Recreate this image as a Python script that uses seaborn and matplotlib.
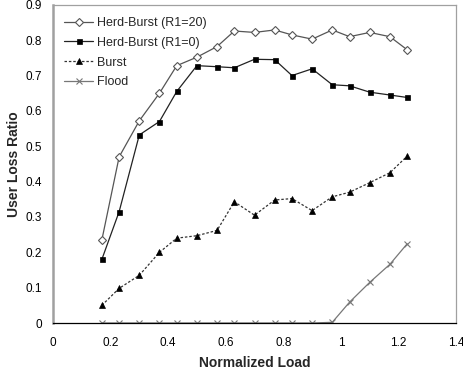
import matplotlib
matplotlib.use("Agg")
import matplotlib.pyplot as plt
import seaborn as sns
import pandas as pd

# data
load = [0.17, 0.23, 0.30, 0.37, 0.43, 0.50, 0.57, 0.63, 0.70, 0.77,
        0.83, 0.90, 0.97, 1.03, 1.10, 1.17, 1.23]
herd_r20 = [0.235, 0.470, 0.572, 0.650, 0.728, 0.752, 0.782, 0.826, 0.822, 0.829,
            0.815, 0.803, 0.829, 0.810, 0.822, 0.810, 0.773]
herd_r0 = [0.180, 0.315, 0.532, 0.570, 0.655, 0.728, 0.725, 0.722, 0.746, 0.745,
           0.700, 0.719, 0.674, 0.671, 0.653, 0.645, 0.638]
burst = [0.050, 0.098, 0.135, 0.200, 0.240, 0.247, 0.262, 0.343, 0.305, 0.348,
         0.352, 0.318, 0.357, 0.370, 0.397, 0.425, 0.472]
flood = [0, 0, 0, 0, 0, 0, 0, 0, 0, 0, 0, 0, 0.002, 0.059, 0.115, 0.166, 0.224]

series_names = ["Herd-Burst (R1=20)", "Herd-Burst (R1=0)", "Burst", "Flood"]
x_ticks = [0, 0.2, 0.4, 0.6, 0.8, 1, 1.2, 1.4]
x_labels = ["0", "0.2", "0.4", "0.6", "0.8", "1", "1.2", "1.4"]
y_ticks = [0, 0.1, 0.2, 0.3, 0.4, 0.5, 0.6, 0.7, 0.8, 0.9]
y_labels = ["0", "0.1", "0.2", "0.3", "0.4", "0.5", "0.6", "0.7", "0.8", "0.9"]

sns.set_style("white")
plt.rcParams['font.family'] = ['Liberation Sans', 'DejaVu Sans']

fig = plt.figure(figsize=(4.64, 3.73), dpi=100)
ax = fig.add_axes([0.114, 0.134, 0.869, 0.853])

styles = [
    dict(color="#555555", marker="D", markersize=4, markerfacecolor="white",
         markeredgecolor="#555555", markeredgewidth=0.8, linestyle="-", linewidth=0.9),
    dict(color="#222222", marker="s", markersize=3.6, markerfacecolor="black",
         markeredgecolor="black", markeredgewidth=0.5, linestyle="-", linewidth=0.9),
    dict(color="#333333", marker="^", markersize=4.5, markerfacecolor="black",
         markeredgecolor="black", markeredgewidth=0.5, linestyle=(0, (2, 1.5)),
         linewidth=0.9),
    dict(color="#777777", marker="x", markersize=4, markeredgecolor="#777777",
         markeredgewidth=0.8, linestyle="-", linewidth=0.9),
]

for name, vals, st in zip(series_names, [herd_r20, herd_r0, burst, flood], styles):
    df = pd.DataFrame({"load": load, "ratio": vals})
    sns.lineplot(data=df, x="load", y="ratio", ax=ax, label=name, **st)

ax.set_xlim(0, 1.4)
ax.set_ylim(0, 0.9)
ax.set_xticks(x_ticks)
ax.set_xticklabels(x_labels)
ax.set_yticks(y_ticks)
ax.set_yticklabels(y_labels)
ax.tick_params(axis="both", labelsize=8.5, direction="out", length=3,
               width=0.8, colors="black", pad=5)
ax.tick_params(axis="x", pad=7)

ax.set_xlabel("Normalized Load", fontsize=10, fontweight="bold", labelpad=5)
ax.set_ylabel("User Loss Ratio", fontsize=10, fontweight="bold", labelpad=3)

for side in ["top", "right"]:
    ax.spines[side].set_color("#a0a0a0")
    ax.spines[side].set_linewidth(0.9)
ax.spines["left"].set_color("#a0a0a0")
ax.spines["left"].set_linewidth(1.8)
ax.spines["bottom"].set_color("black")
ax.spines["bottom"].set_linewidth(0.9)

leg = ax.legend(loc="upper left", frameon=False, fontsize=9,
                handlelength=2.3, handletextpad=0.3, labelspacing=0.62,
                borderaxespad=0.5, bbox_to_anchor=(0.0, 0.997))

fig.savefig("out.png", dpi=100)
